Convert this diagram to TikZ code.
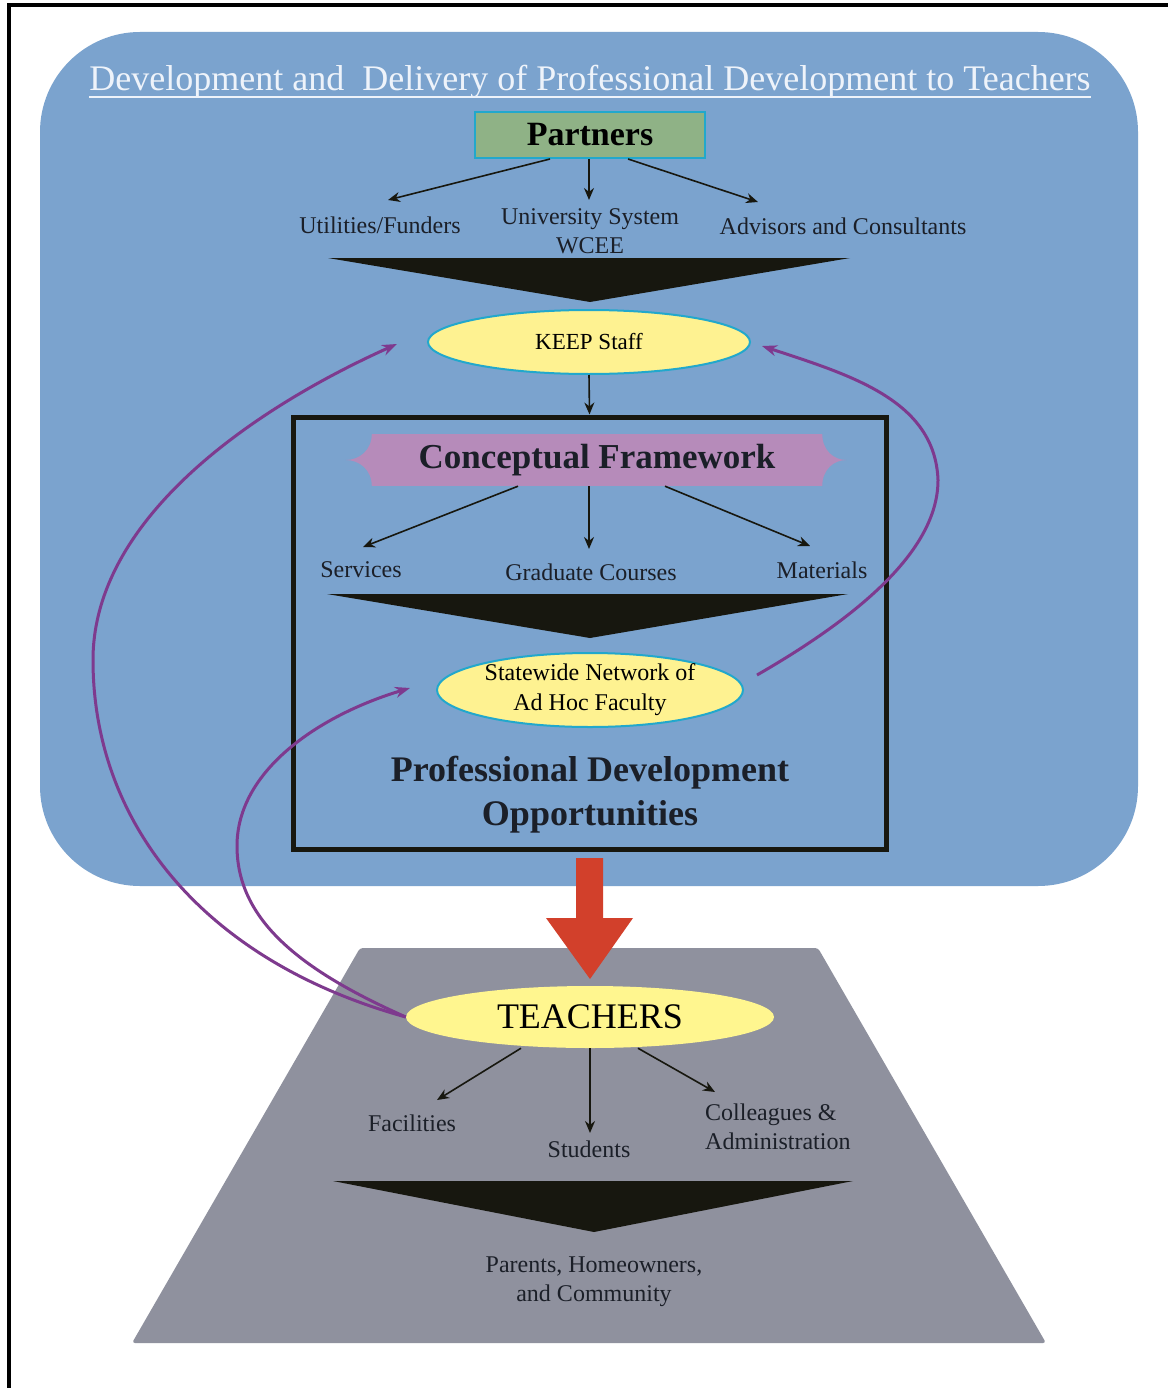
\documentclass[tikz,border=0pt]{standalone}
\usepackage{fontspec}
\setmainfont{Liberation Serif}
\usetikzlibrary{shapes.geometric,arrows.meta,calc}
\definecolor{bluebg}{HTML}{7BA3CE}
\definecolor{partfill}{HTML}{8FB286}
\definecolor{cyanb}{HTML}{22A8CC}
\definecolor{yel}{HTML}{FEF291}
\definecolor{yelt}{HTML}{FFF68F}
\definecolor{banner}{HTML}{B68BBA}
\definecolor{purp}{HTML}{7E3A8E}
\definecolor{redar}{HTML}{D2402B}
\definecolor{greytrap}{HTML}{8F919E}
\definecolor{titlec}{HTML}{EEF3FA}
\definecolor{tri}{HTML}{17170F}
\definecolor{txt}{HTML}{1B1F28}
\begin{document}
\begin{tikzpicture}[x=1pt,y=-1pt,
  lbl/.style={inner sep=0pt, text=txt, font=\fontsize{24}{29}\selectfont, align=center},
  arr/.style={-{Stealth[length=12pt,width=10pt]}, line width=1.6pt, draw=tri},
  parr/.style={-{Stealth[length=15pt,width=11pt]}, line width=3pt, draw=purp},
  ell/.style={ellipse, fill=yel, draw=cyanb, line width=2pt, inner sep=0pt, text=black},
  bigb/.style={font=\bfseries\fontsize{36}{44}\selectfont, text=txt, inner sep=0pt, align=center}]
\useasboundingbox (0,0) rectangle (1168,1388);
\fill[white] (0,0) rectangle (1168,1388);
\draw[line width=4pt] (8.5,1388) -- (8.5,5) -- (1168,5);
% blue area
\fill[bluebg, rounded corners=100pt] (40,32) rectangle (1138,886);
% grey trapezoid
\fill[greytrap, rounded corners=3pt] (360,948) -- (818,948) -- (1046,1343) -- (132,1343) -- cycle;
% red arrow
\fill[redar] (576,858) -- (603,858) -- (603,918) -- (633,918) -- (590,979) -- (546,918) -- (576,918) -- cycle;
% black triangles
\fill[tri] (328,258) -- (850,258) -- (590,302) -- cycle;
\fill[tri] (327,594) -- (848,594) -- (590,638) -- cycle;
\fill[tri] (333,1181) -- (853,1181) -- (594,1232) -- cycle;
% title
\node[inner sep=0pt, anchor=base, text=titlec, font=\fontsize{36}{42}\selectfont] (title) at (590,91)
  {Development and\enspace Delivery of Professional Development to Teachers};
\draw[titlec, line width=1.5pt] ([yshift=-6pt]title.base west) -- ([yshift=-6pt]title.base east);
% partners
\node[rectangle, fill=partfill, draw=cyanb, line width=2pt, minimum width=230pt, minimum height=46pt,
  inner sep=0pt, font=\bfseries\fontsize{34}{40}\selectfont, text=black] (partners) at (590,135) {Partners};
\node[lbl] (utl) at (380,225) {Utilities/Funders};
\node[lbl] (univ) at (590,231) {University System\\WCEE};
\node[lbl] (adv) at (843,226) {Advisors and Consultants};
\coordinate (u1) at (388,200);
\coordinate (u2) at (589,200);
\coordinate (u3) at (758,202);
\draw[arr] ([xshift=-40pt]partners.south) -- (u1);
\draw[arr] ([xshift=-1pt]partners.south) -- (u2);
\draw[arr] ([xshift=38pt]partners.south) -- (u3);
% KEEP staff
\node[ell, minimum width=322pt, minimum height=64pt, font=\fontsize{23}{28}\selectfont] (keep) at (589,342) {KEEP Staff};
% box
\node[rectangle, draw=tri, line width=5pt, minimum width=593pt, minimum height=432pt, inner sep=0pt] (pdbox) at (589.5,633) {};
\draw[arr] (keep.south) -- (pdbox.north);
% conceptual framework banner
\node[rectangle, fill=banner, minimum width=450pt, minimum height=52pt, inner sep=0pt,
  font=\bfseries\fontsize{35}{40}\selectfont, text=txt] (cf) at (597,460) {\raisebox{-3pt}{Conceptual Framework}};
\fill[banner] (cf.north west) .. controls ($(cf.north west)+(0,17)$) and ($(cf.west)+(-13,0)$) .. ($(cf.west)+(-26,0)$)
  .. controls ($(cf.west)+(-13,0)$) and ($(cf.south west)+(0,-17)$) .. (cf.south west) -- cycle;
\fill[banner] (cf.north east) .. controls ($(cf.north east)+(0,17)$) and ($(cf.east)+(12,0)$) .. ($(cf.east)+(24,0)$)
  .. controls ($(cf.east)+(12,0)$) and ($(cf.south east)+(0,-17)$) .. (cf.south east) -- cycle;
\node[lbl] (serv) at (361,570) {Services};
\node[lbl] (grad) at (591,572) {Graduate Courses};
\node[lbl] (mat) at (822,570) {Materials};
\coordinate (c1) at (363,547);
\coordinate (c2) at (589,549);
\coordinate (c3) at (810,546);
\draw[arr] ([xshift=-79pt]cf.south) -- (c1);
\draw[arr] ([xshift=-8pt]cf.south) -- (c2);
\draw[arr] ([xshift=68pt]cf.south) -- (c3);
% statewide
\node[ell, minimum width=306pt, minimum height=74pt, font=\fontsize{24}{30}\selectfont, align=center] (sw) at (590,690)
  {Statewide Network of\\Ad Hoc Faculty};
\node[bigb] (pdt) at (590,795) {Professional Development\\Opportunities};
% teachers
\node[ellipse, fill=yelt, minimum width=368pt, minimum height=62pt, inner sep=0pt,
  font=\fontsize{36}{40}\selectfont, text=black] (teach) at (590,1017) {TEACHERS};
\node[lbl] (fac) at (412,1123) {Facilities};
\node[lbl] (stud) at (589,1149) {Students};
\node[lbl, anchor=west, align=left] (coll) at (705,1126.5) {Colleagues \&\\Administration};
\coordinate (t1) at (437,1100);
\coordinate (t2) at (590,1133);
\coordinate (t3) at (715,1092);
\draw[arr] ([xshift=-69pt]teach.south) -- (t1);
\draw[arr] (teach.south) -- (t2);
\draw[arr] ([xshift=48pt]teach.south) -- (t3);
\node[lbl] (par) at (594,1282) {Parents, Homeowners,\\and Community};
% purple feedback curves
\coordinate (k1) at (397,344);
\coordinate (s1) at (410,688);
\coordinate (k2) at (762,346);
\coordinate (sr) at (757,675);
\draw[parr] (teach.west) .. controls (200,960) and (93,820) .. (93,660) .. controls (93,520) and (250,410) .. (k1);
\draw[parr] (teach.west) .. controls (300,970) and (237,920) .. (237,846) .. controls (237,770) and (320,715) .. (s1);
\draw[parr] (sr) .. controls (870,610) and (938,545) .. (938,480) .. controls (935,400) and (850,375) .. (k2);
\end{tikzpicture}
\end{document}
